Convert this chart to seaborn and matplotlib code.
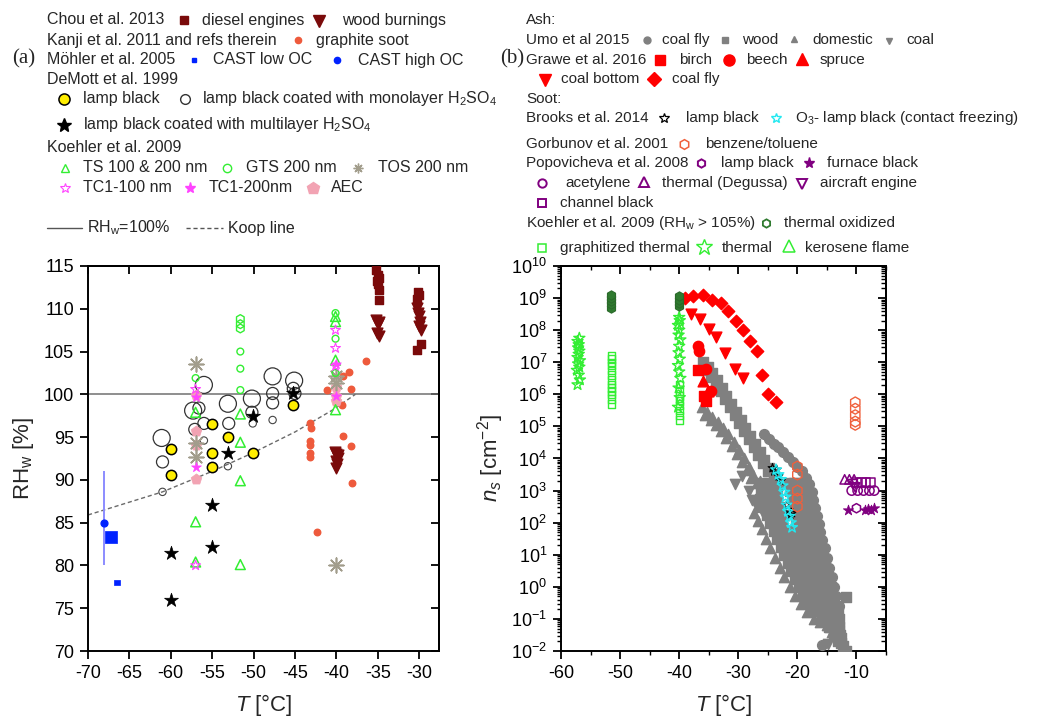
import numpy as np
import matplotlib
matplotlib.use("Agg")
import matplotlib.pyplot as plt
import seaborn as sns
from matplotlib.ticker import MultipleLocator, LogLocator, NullFormatter

# ---------------- panel (a): onset RH_w of soot / ash ----------------
diesel_T = [-35.2, -35.0, -34.9, -35.1, -35.0, -34.9, -34.8, -30.1, -30.0, -30.2, -29.8, -30.2]
diesel_RH = [114.5, 114.0, 113.6, 113.2, 112.9, 112.2, 111.0, 112.0, 111.6, 111.1, 105.9, 105.2]

woodburn_T = [-35.2, -34.9, -35.0, -35.1, -34.8, -30.2, -30.1, -30.0, -29.9, -30.0, -29.8,
              -40.2, -40.0, -39.8, -40.1, -39.9, -40.0, -39.8]
woodburn_RH = [108.7, 108.5, 108.2, 107.2, 106.8, 110.1, 109.5, 109.1, 108.5, 108.0, 107.5,
               93.3, 93.0, 92.6, 92.2, 91.8, 91.4, 92.9]

graphite_T = [-36.4, -38.5, -39.2, -38.2, -41.1, -43.2, -43.1, -43.2, -43.2, -43.2, -43.2,
              -39.2, -38.2, -38.1, -42.3, -39.3]
graphite_RH = [103.9, 102.6, 102.1, 100.6, 100.5, 96.7, 96.1, 94.5, 94.1, 93.1, 92.7,
               95.1, 94.0, 89.6, 83.9, 98.8]

castlow_T = [-67.2, -66.5]
castlow_RH = [83.3, 78.0]
casthigh_T = [-68.1]
casthigh_RH = [85.0]
casthigh_lo = [80.0]
casthigh_hi = [91.0]

lampblack_T = [-60.0, -60.0, -55.0, -55.0, -55.0, -53.1, -50.1, -45.2]
lampblack_RH = [93.6, 90.6, 96.5, 93.1, 91.5, 95.0, 93.1, 98.7]

mono_big_T = [-61.1, -56.0, -57.3, -53.1, -50.2, -47.7, -45.1]
mono_big_RH = [94.9, 101.1, 98.1, 98.9, 99.5, 102.1, 101.6]
mono_mid_T = [-61.0, -56.6, -56.0, -57.1, -53.0, -50.2, -47.7, -47.7, -45.2, -45.0]
mono_mid_RH = [92.1, 98.4, 96.6, 95.9, 96.6, 97.9, 100.1, 99.0, 100.7, 100.1]
mono_small_T = [-56.0, -53.1, -50.1, -47.7, -61.0]
mono_small_RH = [94.6, 91.6, 96.6, 97.0, 88.6]

multi_T = [-53.1, -50.1, -45.2, -60.0, -60.0, -55.0, -55.0]
multi_RH = [93.1, 97.5, 100.1, 81.5, 76.0, 87.1, 82.2]

ts_T = [-57.0, -51.6, -51.6, -51.6, -57.0, -57.0, -51.6, -40.1, -40.1, -40.1, -40.1]
ts_RH = [97.9, 97.7, 94.4, 89.9, 85.1, 80.4, 80.1, 109.1, 108.5, 104.0, 98.2]
gts_T = [-57.0, -51.6, -51.6, -51.6, -40.1, -40.1, -40.1]
gts_RH = [101.9, 105.0, 103.0, 100.5, 109.5, 106.5, 102.5]
gts_hex_T = [-51.6, -51.6, -51.6]
gts_hex_RH = [108.8, 108.2, 107.7]
tos_T = [-57.0, -57.0, -57.0, -40.1, -40.1, -40.0]
tos_RH = [103.6, 92.7, 94.3, 102.1, 101.3, 80.0]
tc100_T = [-57.0, -57.0, -40.1, -40.1, -40.1]
tc100_RH = [100.6, 80.0, 107.5, 105.4, 103.3]
tc200_T = [-57.0, -57.0, -40.1, -40.1]
tc200_RH = [99.7, 91.5, 103.5, 99.8]
aec_T = [-57.0, -57.0, -57.0, -57.0, -40.1, -40.1, -40.1]
aec_RH = [99.9, 95.7, 94.1, 90.1, 100.9, 99.8, 99.2]

koop_T = [-70.0, -65.0, -61.0, -57.0, -55.0, -50.0, -45.0, -40.4, -37.7]
koop_RH = [85.9, 87.4, 88.6, 90.2, 91.0, 93.2, 95.6, 98.2, 100.0]

# ---------------- panel (b): ice-nucleation active site density (log10 cm^-2) ----------------
umo_coalfly_T = [-25.6, -24.8, -24.0, -23.2, -22.4, -21.6, -20.8, -20.0, -19.3, -18.6, -18.0,
                 -17.6, -17.3, -17.0, -16.7, -16.4, -16.1, -15.8, -15.4, -15.0, -14.6, -14.2,
                 -13.8, -13.4, -13.0, -15.8]
umo_coalfly_lg = [4.75, 4.6, 4.45, 4.35, 4.2, 4.05, 3.9, 3.75, 3.6, 3.4, 3.2,
                  2.95, 2.7, 2.45, 2.2, 1.95, 1.7, 1.45, 1.2, 0.9, 0.6, 0.3,
                  0.0, -0.3, -0.6, -1.8]

# upper diagonal band (two rows) and the right-hand part of the main cloud
umo_wood_T = [-36.0, -35.2, -34.4, -33.6, -32.8, -32.0, -31.2, -30.4, -29.6, -28.8, -28.0,
              -27.2, -26.4, -25.6, -24.8, -24.0, -23.2,
              -35.4, -34.6, -33.8, -33.0, -32.2, -31.4, -30.6, -29.8, -29.0, -28.2, -27.4,
              -26.6, -25.8, -25.0,
              -19.6, -19.2, -18.8, -18.4, -18.0, -17.6, -17.2, -16.8, -16.4, -15.9, -15.4,
              -14.9, -14.4, -13.9, -13.4, -12.9, -12.6, -12.2, -11.8, -11.7,
              -21.0, -20.4, -19.8, -19.2, -18.6, -18.0, -17.4, -16.8, -16.1, -15.4, -14.6,
              -13.8, -13.2]
umo_wood_lg = [7.0, 6.85, 6.65, 6.45, 6.2, 5.95, 5.7, 5.45, 5.2, 4.95, 4.7,
               4.45, 4.2, 3.95, 3.7, 3.45, 3.2,
               6.75, 6.55, 6.35, 6.1, 5.85, 5.6, 5.35, 5.1, 4.85, 4.6, 4.35,
               4.1, 3.85, 3.6,
               3.1, 2.8, 2.5, 2.2, 1.9, 1.6, 1.3, 1.0, 0.7, 0.4, 0.1,
               -0.2, -0.5, -0.8, -1.1, -1.35, -1.6, -1.85, -2.0, -0.33,
               1.7, 1.4, 1.1, 0.8, 0.5, 0.2, -0.1, -0.4, -0.7, -1.0, -1.25,
               -1.45, -1.7]

# interior of the dense cloud, read row by row
umo_wood_fill_T = [-26.0, -25.0, -24.2, -21.5, -20.5, -19.5, -18.7,
                   -26.2, -25.2, -24.2, -23.4, -21.2, -20.2, -19.2, -18.4,
                   -26.4, -25.4, -24.4, -23.5, -20.8, -19.8, -18.8, -18.0,
                   -25.8, -24.8, -23.8, -22.9, -20.6, -19.6, -18.6, -17.6,
                   -25.2, -24.2, -23.2, -22.4, -20.3, -19.3, -18.3, -17.3,
                   -24.6, -23.6, -22.6, -20.2, -19.2, -18.2, -17.2,
                   -24.0, -23.0, -22.0, -21.0, -20.0, -19.0, -18.0, -17.0,
                   -23.4, -22.4, -21.4, -20.4, -19.4, -18.4, -17.4, -16.6,
                   -22.8, -21.8, -20.8, -19.8, -18.8, -17.8, -16.9, -16.1,
                   -22.2, -21.2, -20.2, -19.2, -18.2, -17.2, -16.4, -15.8,
                   -21.6, -20.6, -19.6, -18.6, -17.6, -16.7, -15.9, -15.3,
                   -21.0, -20.0, -19.0, -18.0, -17.0, -16.1, -15.3,
                   -20.4, -19.4, -18.4, -17.4, -16.5, -15.6, -14.8,
                   -19.8, -18.8, -17.8, -16.8, -15.9, -15.0, -14.3,
                   -19.0, -18.0, -17.0, -16.1, -15.3, -14.5,
                   -18.2, -17.2, -16.3, -15.5, -14.7, -13.9,
                   -17.2, -16.3, -15.5, -14.7, -13.9, -13.2,
                   -15.8, -15.0, -14.2, -13.5, -12.9,
                   -14.4, -13.6, -13.0,
                   -13.4, -12.8,
                   -12.6]
umo_wood_fill_lg = [3.25, 3.25, 3.25, 3.25, 3.25, 3.25, 3.25,
                    3.0, 3.0, 3.0, 3.0, 3.0, 3.0, 3.0, 3.0,
                    2.75, 2.75, 2.75, 2.75, 2.75, 2.75, 2.75, 2.75,
                    2.5, 2.5, 2.5, 2.5, 2.5, 2.5, 2.5, 2.5,
                    2.25, 2.25, 2.25, 2.25, 2.25, 2.25, 2.25, 2.25,
                    2.0, 2.0, 2.0, 2.0, 2.0, 2.0, 2.0,
                    1.75, 1.75, 1.75, 1.75, 1.75, 1.75, 1.75, 1.75,
                    1.5, 1.5, 1.5, 1.5, 1.5, 1.5, 1.5, 1.5,
                    1.25, 1.25, 1.25, 1.25, 1.25, 1.25, 1.25, 1.25,
                    1.0, 1.0, 1.0, 1.0, 1.0, 1.0, 1.0, 1.0,
                    0.75, 0.75, 0.75, 0.75, 0.75, 0.75, 0.75, 0.75,
                    0.5, 0.5, 0.5, 0.5, 0.5, 0.5, 0.5,
                    0.25, 0.25, 0.25, 0.25, 0.25, 0.25, 0.25,
                    0.0, 0.0, 0.0, 0.0, 0.0, 0.0, 0.0,
                    -0.25, -0.25, -0.25, -0.25, -0.25, -0.25,
                    -0.5, -0.5, -0.5, -0.5, -0.5, -0.5,
                    -0.75, -0.75, -0.75, -0.75, -0.75, -0.75,
                    -1.0, -1.0, -1.0, -1.0, -1.0,
                    -1.25, -1.25, -1.25,
                    -1.5, -1.5,
                    -1.75]

umo_domestic_T = [-36.2, -35.3, -34.4, -33.5, -32.6, -31.7, -30.8, -29.9, -29.0, -28.2, -27.5,
                  -26.9, -26.3, -25.2,
                  -35.6, -34.7, -33.8, -32.9, -32.0, -31.1, -30.2, -29.3, -28.5, -27.8,
                  -27.4, -26.7, -26.0, -25.3, -24.6, -23.8, -23.0, -22.2, -21.3, -20.4, -19.4,
                  -18.3, -17.2, -16.2,
                  -25.6, -25.0, -24.4, -23.8, -23.1, -22.4, -21.7, -21.0, -20.2, -19.4, -18.6,
                  -17.8, -16.9, -15.9, -15.0, -14.2]
umo_domestic_lg = [5.6, 5.45, 5.3, 5.15, 4.95, 4.75, 4.5, 4.25, 4.0, 3.75, 3.5,
                   3.25, 3.3, 3.2,
                   5.35, 5.2, 5.05, 4.85, 4.65, 4.4, 4.15, 3.9, 3.65, 3.4,
                   2.3, 2.05, 1.8, 1.5, 1.2, 0.9, 0.6, 0.3, 0.0, -0.3, -0.55,
                   -0.8, -1.0, -1.1,
                   2.9, 2.6, 2.3, 2.0, 1.7, 1.4, 1.1, 0.8, 0.5, 0.2, -0.1,
                   -0.4, -0.7, -0.95, -1.2, -1.4]

umo_coal_T = [-30.5, -29.3, -28.2, -27.6, -26.8, -25.9, -24.8, -14.8, -14.3, -13.3]
umo_coal_lg = [3.2, 3.45, 3.0, 2.7, 2.5, 2.3, 2.1, -1.77, -1.3, -0.9]

grawe_birch_T = [-36.8, -35.4, -35.8]
grawe_birch_lg = [6.75, 5.8, 5.95]
grawe_beech_T = [-36.9, -36.7, -35.5, -34.6]
grawe_beech_lg = [7.5, 7.35, 6.8, 6.1]
grawe_spruce_T = [-36.0, -35.2]
grawe_spruce_lg = [6.4, 6.1]
grawe_coalbottom_T = [-38.0, -36.5, -35.0, -33.8, -32.2, -30.5, -29.2]
grawe_coalbottom_lg = [8.5, 8.35, 8.05, 7.8, 7.3, 6.8, 6.5]
grawe_coalfly_T = [-39.0, -37.6, -36.0, -34.4, -33.0, -31.8, -30.4, -29.2, -28.0, -26.9,
                   -26.0, -25.0, -23.6]
grawe_coalfly_lg = [9.0, 9.05, 9.1, 8.95, 8.85, 8.6, 8.3, 8.0, 7.65, 7.35, 6.6, 6.0, 5.75]

brooks_lamp_T = [-24.2, -23.9, -23.5, -23.2, -22.8, -21.8, -21.5, -21.2, -20.9]
brooks_lamp_lg = [3.7, 3.6, 3.65, 3.45, 3.3, 2.55, 2.4, 2.25, 2.3]
brooks_o3_T = [-23.6, -23.2, -22.8, -22.5, -22.2, -22.0, -21.8, -21.6, -21.3, -21.1, -20.9]
brooks_o3_lg = [3.65, 3.5, 3.35, 3.15, 2.95, 2.8, 2.55, 2.35, 2.2, 2.0, 1.85]

gorbunov_T = [-20.0, -20.0, -20.0, -20.0, -20.0, -10.2, -10.2, -10.2, -10.2, -10.2]
gorbunov_lg = [3.75, 3.5, 3.0, 2.75, 2.5, 5.75, 5.55, 5.35, 5.15, 5.05]

popo_lamp_T = [-10.0]
popo_lamp_lg = [2.45]
popo_furnace_T = [-11.5, -8.6, -8.0, -7.5, -7.1]
popo_furnace_lg = [2.4, 2.38, 2.42, 2.4, 2.45]
popo_acetylene_T = [-10.8, -9.8, -8.8, -7.8, -7.0]
popo_acetylene_lg = [3.0, 3.0, 3.0, 3.0, 3.0]
popo_thermal_T = [-12.0, -11.2, -10.4]
popo_thermal_lg = [3.35, 3.35, 3.35]
popo_aircraft_T = [-10.6, -10.2]
popo_aircraft_lg = [3.2, 3.1]
popo_channel_T = [-10.0, -9.2, -8.4, -7.6]
popo_channel_lg = [3.25, 3.25, 3.25, 3.25]

koehler_oxid_T = [-51.5, -51.5, -51.5, -51.5, -51.5, -40.0, -40.0, -40.0, -40.0]
koehler_oxid_lg = [8.7, 8.8, 8.9, 9.0, 9.1, 8.75, 8.85, 8.95, 9.05]
koehler_graph_T = [-51.5] * 13 + [-40.0] * 8
koehler_graph_lg = [5.7, 5.85, 6.0, 6.1, 6.2, 6.3, 6.45, 6.6, 6.75, 6.9, 7.0, 7.1, 7.2,
                    5.2, 5.35, 5.5, 5.65, 5.8, 5.95, 6.1, 6.3]
koehler_thermal_T = [-57.2, -56.8, -57.0, -57.3, -56.9, -57.1, -56.8, -57.2, -57.0, -56.9,
                     -57.1, -57.0, -57.2, -56.9,
                     -40.2, -39.9, -40.1, -39.8, -40.0, -40.2, -39.9, -40.1, -40.0, -39.8,
                     -40.1, -40.0, -40.2, -39.9, -40.0]
koehler_thermal_lg = [6.3, 6.45, 6.6, 6.75, 6.85, 6.95, 7.05, 7.15, 7.25, 7.35,
                      7.45, 7.55, 7.65, 7.75,
                      5.6, 5.9, 6.2, 6.5, 6.7, 6.9, 7.1, 7.3, 7.5, 7.7,
                      7.85, 8.0, 8.15, 8.3, 8.4]
koehler_kero_T = [-40.0, -40.0, -57.0]
koehler_kero_lg = [8.35, 8.2, 7.6]

# ---------------- style ----------------
sns.set_theme(style="ticks", rc={
    "axes.edgecolor": "black", "axes.linewidth": 1.4,
    "xtick.color": "black", "ytick.color": "black",
    "xtick.major.width": 1.3, "ytick.major.width": 1.3,
    "xtick.minor.width": 1.0, "ytick.minor.width": 1.0,
})
plt.rcParams["font.family"] = ["Liberation Sans", "DejaVu Sans"]
plt.rcParams["mathtext.fontset"] = "custom"
plt.rcParams["mathtext.rm"] = "Liberation Sans"
plt.rcParams["mathtext.it"] = "Liberation Sans:italic"
plt.rcParams["mathtext.default"] = "regular"
plt.rcParams["axes.unicode_minus"] = False

MAROON = "#7a0a0a"
TOMATO = "#ee5a3c"
BLUE = "#0022ff"
GREEN = "#33ee33"
DKGREEN = "#2f7a2f"
TOSGRAY = "#a29d8c"
PINK = "#ff44ff"
AECPINK = "#f2a3b3"
ASH = "#808080"
RED = "#ff0000"
CYAN = "#22e8f0"
GORB = "#f0603c"
PURPLE = "#800080"

W, H = 1055, 717
fig = plt.figure(figsize=(W / 100, H / 100), dpi=100)


def rect(l, t, r, b):
    return [l / W, 1 - b / H, (r - l) / W, (b - t) / H]


ax1 = fig.add_axes(rect(88, 266, 439, 651))
ax2 = fig.add_axes(rect(561, 266, 886, 651))
lg = fig.add_axes([0, 0, 1, 1], zorder=-1)
lg.set_xlim(0, W)
lg.set_ylim(H, 0)
lg.axis("off")


def pts(ax, x, y, marker, color, s, filled=True, lw=1.0, edge=None, z=3):
    sns.scatterplot(x=np.asarray(x, float), y=np.asarray(y, float), ax=ax, marker=marker,
                    s=s, color=color, facecolor=(color if filled else "none"),
                    edgecolor=(edge if edge is not None else color), linewidth=lw,
                    legend=False, zorder=z)


ASTER = (8, 2, 0)

# ---- panel (a) ----
ax1.axhline(100, color="#707070", lw=1.1, zorder=1)
sns.lineplot(x=koop_T, y=koop_RH, ax=ax1, color="#6a6a6a", lw=1.0, linestyle=(0, (3, 2)),
             estimator=None, sort=False, zorder=1)
ax1.vlines(casthigh_T, casthigh_lo, casthigh_hi, color="#8c8cff", lw=1.4, zorder=2)

pts(ax1, mono_big_T, mono_big_RH, "o", "#333333", 150, filled=False, lw=0.9)
pts(ax1, mono_mid_T, mono_mid_RH, "o", "#333333", 75, filled=False, lw=0.9)
pts(ax1, mono_small_T, mono_small_RH, "o", "#444444", 28, filled=False, lw=0.8)
pts(ax1, lampblack_T, lampblack_RH, "o", "#ffee00", 55, edge="black", lw=1.1)
pts(ax1, multi_T, multi_RH, "*", "black", 110, lw=0.5)
pts(ax1, diesel_T, diesel_RH, "s", MAROON, 40)
pts(ax1, woodburn_T, woodburn_RH, "v", MAROON, 60)
pts(ax1, graphite_T, graphite_RH, "o", TOMATO, 22)
sns.scatterplot(x=castlow_T, y=castlow_RH, ax=ax1, marker="s", size=[2, 1], sizes=(16, 70),
                color=BLUE, edgecolor=BLUE, linewidth=0.5, legend=False, zorder=3)
pts(ax1, casthigh_T, casthigh_RH, "o", BLUE, 24)
pts(ax1, aec_T, aec_RH, "p", AECPINK, 65, lw=0.5)
pts(ax1, tos_T, tos_RH, ASTER, TOSGRAY, 110, lw=1.2)
pts(ax1, ts_T, ts_RH, "^", GREEN, 50, filled=False, lw=1.1)
pts(ax1, gts_T, gts_RH, "o", GREEN, 24, filled=False, lw=1.0)
pts(ax1, gts_hex_T, gts_hex_RH, "h", GREEN, 40, filled=False, lw=1.0)
pts(ax1, tc100_T, tc100_RH, "*", PINK, 55, filled=False, lw=0.8)
pts(ax1, tc200_T, tc200_RH, "*", PINK, 55, lw=0.5)

ax1.set_xlim(-70, -27.6)
ax1.set_ylim(70, 115)
ax1.xaxis.set_major_locator(MultipleLocator(5))
ax1.yaxis.set_major_locator(MultipleLocator(5))
ax1.tick_params(axis="both", which="major", direction="out", length=6, labelsize=13, pad=4)
secx1 = ax1.secondary_xaxis("top")
secx1.xaxis.set_major_locator(MultipleLocator(5))
secx1.tick_params(direction="in", length=6, width=1.3, labeltop=False)
secy1 = ax1.secondary_yaxis("right")
secy1.yaxis.set_major_locator(MultipleLocator(5))
secy1.tick_params(direction="in", length=6, width=1.3, labelright=False)
ax1.set_xlabel(r"$\mathit{T}$ [°C]", fontsize=16, labelpad=7)
ax1.set_ylabel(r"RH$_w$ [%]", fontsize=16, labelpad=6)


# ---- panel (b) ----
def lgp(ax, T, lgv, *a, **k):
    pts(ax, T, 10 ** np.asarray(lgv, float), *a, **k)


lgp(ax2, umo_wood_fill_T, umo_wood_fill_lg, "s", ASH, 60, z=2)
lgp(ax2, umo_domestic_T, umo_domestic_lg, "^", ASH, 55)
lgp(ax2, umo_coal_T, umo_coal_lg, "v", ASH, 55)
lgp(ax2, umo_wood_T, umo_wood_lg, "s", ASH, 50)
lgp(ax2, umo_coalfly_T, umo_coalfly_lg, "o", ASH, 50)
lgp(ax2, grawe_coalfly_T, grawe_coalfly_lg, "D", RED, 40)
lgp(ax2, grawe_coalbottom_T, grawe_coalbottom_lg, "v", RED, 60)
lgp(ax2, grawe_birch_T, grawe_birch_lg, "s", RED, 55)
lgp(ax2, grawe_beech_T, grawe_beech_lg, "o", RED, 55)
lgp(ax2, grawe_spruce_T, grawe_spruce_lg, "^", RED, 60)
lgp(ax2, koehler_graph_T, koehler_graph_lg, "s", GREEN, 28, filled=False, lw=1.0)
lgp(ax2, koehler_thermal_T, koehler_thermal_lg, "*", GREEN, 70, filled=False, lw=1.0)
lgp(ax2, koehler_kero_T, koehler_kero_lg, "^", GREEN, 45, filled=False, lw=1.0)
lgp(ax2, koehler_oxid_T, koehler_oxid_lg, "h", DKGREEN, 45, edge="#2a6a2a", lw=0.8)
lgp(ax2, brooks_lamp_T, brooks_lamp_lg, "*", "black", 45, filled=False, lw=0.8, z=4)
lgp(ax2, brooks_o3_T, brooks_o3_lg, "*", CYAN, 65, filled=False, lw=1.0, z=4)
lgp(ax2, gorbunov_T, gorbunov_lg, "h", GORB, 60, filled=False, lw=1.0, z=4)
lgp(ax2, popo_thermal_T, popo_thermal_lg, "^", PURPLE, 45, filled=False, lw=1.1)
lgp(ax2, popo_aircraft_T, popo_aircraft_lg, "v", PURPLE, 45, filled=False, lw=1.1)
lgp(ax2, popo_channel_T, popo_channel_lg, "s", PURPLE, 40, filled=False, lw=1.1)
lgp(ax2, popo_acetylene_T, popo_acetylene_lg, "o", PURPLE, 45, filled=False, lw=1.1)
lgp(ax2, popo_lamp_T, popo_lamp_lg, "h", PURPLE, 45, filled=False, lw=1.1)
lgp(ax2, popo_furnace_T, popo_furnace_lg, "*", PURPLE, 60, lw=0.6)

ax2.set_yscale("log")
ax2.set_xlim(-60, -5)
ax2.set_ylim(1e-2, 1e10)
ax2.xaxis.set_major_locator(MultipleLocator(10))
ax2.xaxis.set_minor_locator(MultipleLocator(5))
ax2.yaxis.set_major_locator(LogLocator(base=10, numticks=20))
ax2.yaxis.set_minor_locator(LogLocator(base=10, subs=np.arange(2, 10), numticks=20))
ax2.yaxis.set_minor_formatter(NullFormatter())
ax2.tick_params(axis="both", which="major", direction="out", length=6, labelsize=13, pad=4)
ax2.tick_params(axis="both", which="minor", direction="out", length=3)
secx2 = ax2.secondary_xaxis("top")
secx2.xaxis.set_major_locator(MultipleLocator(10))
secx2.xaxis.set_minor_locator(MultipleLocator(5))
secx2.tick_params(which="major", direction="in", length=6, width=1.3, labeltop=False)
secx2.tick_params(which="minor", direction="in", length=3, width=1.0)
secy2 = ax2.secondary_yaxis("right")
secy2.yaxis.set_major_locator(LogLocator(base=10, numticks=20))
secy2.yaxis.set_minor_locator(LogLocator(base=10, subs=np.arange(2, 10), numticks=20))
secy2.yaxis.set_minor_formatter(NullFormatter())
secy2.tick_params(which="major", direction="in", length=6, width=1.3, labelright=False)
secy2.tick_params(which="minor", direction="in", length=3.5, width=1.0)
ax2.set_xlabel(r"$\mathit{T}$ [°C]", fontsize=16, labelpad=7)
ax2.set_ylabel(r"$\mathit{n_s}$ [cm$^{-2}$]", fontsize=16, labelpad=4)

# ---------------- key texts and symbols above the panels ----------------


def txt(x, y, s, fs=11.5, **k):
    lg.text(x, y, s, fontsize=fs, va="center", ha="left", **k)


def key(x, y, marker, color, ms, filled=True, mew=1.0, edge=None):
    lg.plot([x], [y], marker=marker, ms=ms, color=color, ls="none",
            mfc=(color if filled else "none"), mec=(edge if edge is not None else color), mew=mew)


serif = ["Liberation Serif", "DejaVu Serif"]
# panel (a) key
txt(12, 59, "(a)", fs=15, family=serif)
txt(47, 20, "Chou et al. 2013")
key(184, 20, "s", MAROON, 6); txt(202, 20, "diesel engines")
key(319, 21, "v", MAROON, 8); txt(342, 20, "wood burnings")
txt(47, 40, "Kanji et al. 2011 and refs therein")
key(298, 40, "o", TOMATO, 4.5); txt(316, 40, "graphite soot")
txt(47, 60, "Möhler et al. 2005")
key(194, 60, "s", BLUE, 3.5); txt(213, 60, "CAST low OC")
key(337, 60, "o", BLUE, 4.5); txt(358, 60, "CAST high OC")
txt(47, 79, "DeMott et al. 1999")
key(64, 99, "o", "#ffee00", 8, edge="black", mew=1.1); txt(83, 99, "lamp black")
key(185, 99, "o", "#333333", 7, filled=False, mew=1.0)
txt(202, 99, r"lamp black coated with monolayer H$_2$SO$_4$")
key(64, 125, "*", "black", 10); txt(83, 125, r"lamp black coated with multilayer H$_2$SO$_4$")
txt(47, 148, "Koehler et al. 2009")
key(65, 168, "^", GREEN, 6, filled=False); txt(83, 168, "TS 100 & 200 nm")
key(227, 168, "o", GREEN, 6, filled=False); txt(246, 168, "GTS 200 nm")
key(358, 168, ASTER, TOSGRAY, 7, mew=1.0); txt(378, 168, "TOS 200 nm")
key(65, 188, "*", PINK, 7, filled=False, mew=0.8); txt(83, 188, "TC1-100 nm")
key(190, 188, "*", PINK, 8); txt(209, 188, "TC1-200nm")
key(313, 188, "p", AECPINK, 9); txt(331, 188, "AEC")
lg.plot([47, 82], [228, 228], color="#555555", lw=1.0)
txt(87, 228, r"RH$_w$=100%")
lg.plot([186, 223], [228, 228], color="#555555", lw=1.0, ls=(0, (3, 2)))
txt(228, 228, "Koop line")

# panel (b) key
FB = 11
txt(500, 59, "(b)", fs=15, family=serif)
txt(526, 20, "Ash:", fs=FB)
txt(526, 40, "Umo et al 2015", fs=FB)
key(647, 40, "o", ASH, 5); txt(662, 40, "coal fly", fs=FB)
key(725, 40, "s", ASH, 5); txt(742, 40, "wood", fs=FB)
key(794, 39, "^", ASH, 5); txt(812, 40, "domestic", fs=FB)
key(889, 41, "v", ASH, 5); txt(906, 40, "coal", fs=FB)
txt(526, 60, "Grawe et al. 2016", fs=FB)
key(660, 60, "s", RED, 7); txt(679, 60, "birch", fs=FB)
key(729, 60, "o", RED, 8); txt(746, 60, "beech", fs=FB)
key(802, 59, "^", RED, 9); txt(820, 60, "spruce", fs=FB)
key(545, 80, "v", RED, 9); txt(561, 79, "coal bottom", fs=FB)
key(654, 79, "D", RED, 7); txt(672, 79, "coal fly", fs=FB)
txt(526, 99, "Soot:", fs=FB)
txt(526, 118, "Brooks et al. 2014", fs=FB)
key(664, 118, "*", "black", 7, filled=False, mew=0.9); txt(686, 118, "lamp black", fs=FB)
key(776, 118, "*", CYAN, 7, filled=False, mew=1.0)
txt(795, 118, r"O$_3$- lamp black (contact freezing)", fs=FB)
txt(526, 144, "Gorbunov et al. 2001", fs=FB)
key(684, 144, "h", GORB, 7, filled=False, mew=1.1); txt(705, 144, "benzene/toluene", fs=FB)
txt(526, 163, "Popovicheva et al. 2008", fs=FB)
key(701, 163, "h", PURPLE, 6, filled=False, mew=1.4); txt(721, 163, "lamp black", fs=FB)
key(809, 163, "*", PURPLE, 8); txt(827, 163, "furnace black", fs=FB)
key(542, 183, "o", PURPLE, 6, filled=False, mew=1.4); txt(565, 183, "acetylene", fs=FB)
key(644, 182, "^", PURPLE, 7, filled=False, mew=1.4); txt(662, 183, "thermal (Degussa)", fs=FB)
key(802, 184, "v", PURPLE, 7, filled=False, mew=1.4); txt(820, 183, "aircraft engine", fs=FB)
key(542, 203, "s", PURPLE, 6, filled=False, mew=1.4); txt(560, 203, "channel black", fs=FB)
txt(526, 223, r"Koehler et al. 2009 (RH$_w$ > 105%)", fs=FB)
key(766, 223, "h", DKGREEN, 6, filled=False, mew=1.3); txt(784, 223, "thermal oxidized", fs=FB)
key(542, 248, "s", GREEN, 6, filled=False, mew=1.1); txt(560, 248, "graphitized thermal", fs=FB)
key(704, 247, "*", GREEN, 12, filled=False, mew=1.0); txt(722, 248, "thermal", fs=FB)
key(789, 246, "^", GREEN, 8, filled=False, mew=1.1); txt(805, 248, "kerosene flame", fs=FB)

fig.savefig("out.png", dpi=100)
